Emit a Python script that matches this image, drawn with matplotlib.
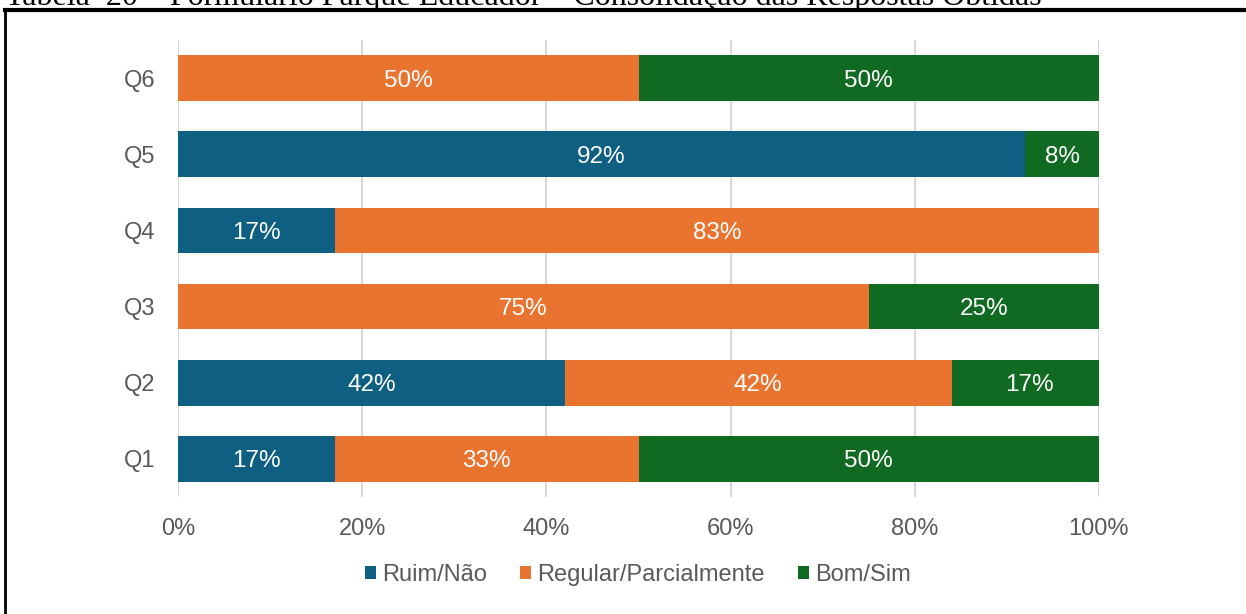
import numpy as np
import matplotlib
matplotlib.use('Agg')
import matplotlib.pyplot as plt
from matplotlib.lines import Line2D
from matplotlib.patches import Patch

questions = ['Q1', 'Q2', 'Q3', 'Q4', 'Q5', 'Q6']
ruim = [17, 42, 0, 17, 92, 0]
regular = [33, 42, 75, 83, 0, 50]
bom = [50, 17, 25, 0, 8, 50]
series_names = ['Ruim/Não', 'Regular/Parcialmente', 'Bom/Sim']
colors = ['#0e5f81', '#e97430', '#116a22']
title = 'Tabela  20 – Formulário Parque Educador – Consolidação das Respostas Obtidas'

plt.rcParams['font.family'] = ['Liberation Sans', 'DejaVu Sans']

fig = plt.figure(figsize=(12.46, 6.14), dpi=100)
ax = fig.add_axes([178/1246, 1 - 497/614, (1099 - 178)/1246, (497 - 40)/614])

y = np.arange(len(questions))
left = np.zeros(len(questions))
for vals, c in zip([ruim, regular, bom], colors):
    vals = np.array(vals)
    ax.barh(y, vals, left=left, height=0.6, color=c, edgecolor='none', zorder=2)
    for yi, l, v in zip(y, left, vals):
        if v > 0:
            ax.text(l + v / 2, yi, f'{v}%', ha='center', va='center_baseline',
                    color='white', fontsize=17.5, zorder=3)
    left = left + vals

ax.set_xlim(0, 100)
ax.set_ylim(-0.5, 5.5)
ax.set_xticks(np.arange(0, 101, 20))
ax.set_xticklabels([f'{t}%' for t in range(0, 101, 20)])
ax.set_yticks(y)
ax.set_yticklabels(questions)
ax.tick_params(length=0, labelsize=17, labelcolor='#595959')
ax.tick_params(axis='x', pad=15)
ax.tick_params(axis='y', pad=16.5)
ax.grid(axis='x', color='#d9d9d9', linewidth=1.5, zorder=0)
for s in ax.spines.values():
    s.set_visible(False)

handles = [Patch(facecolor=c, edgecolor='none') for c in colors]
fig.legend(handles, series_names, loc='center', bbox_to_anchor=(638/1246, 1 - 575/614),
           ncol=3, frameon=False, fontsize=17, handlelength=0.47, handleheight=0.47,
           handletextpad=0.25, columnspacing=1.4, labelcolor='#595959')

# page border and clipped caption from the source document
fig.add_artist(Line2D([5/1246, 1], [1 - 10/614, 1 - 10/614], color='black', linewidth=3))
fig.add_artist(Line2D([5/1246, 5/1246], [0, 1 - 10/614], color='black', linewidth=2))
fig.text(5/1246, 1 - 5/614, title, fontsize=23, family='Liberation Serif',
         ha='left', va='baseline')

fig.savefig('out.png', dpi=100)
